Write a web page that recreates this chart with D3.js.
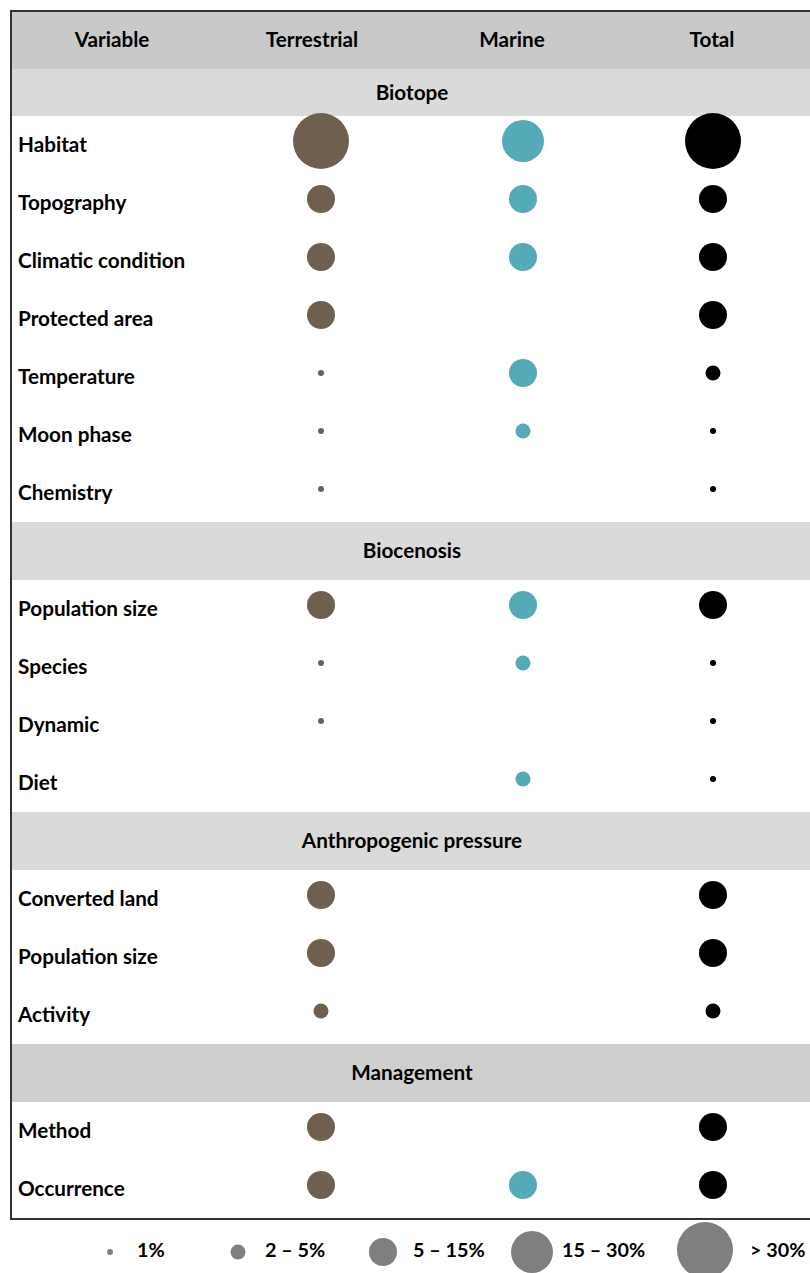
<!DOCTYPE html>
<meta charset="utf-8">
<html>
<head>
<script src="https://d3js.org/d3.v7.min.js"></script>
<style>
  body { margin: 0; background: #fff; }
  text { font-family: Lato, "Open Sans", sans-serif; font-weight: bold; fill: #000; }
</style>
</head>
<body>
<svg id="my_dataviz" width="810" height="1273"></svg>
</body>
</html>
<script>

// Columns and size classes
var columns = ["Variable", "Terrestrial", "Marine", "Total"];
var series = ["Terrestrial", "Marine", "Total"];
var sizeClasses = ["1%", "2 – 5%", "5 – 15%", "15 – 30%", "> 30%"];

// Sections and their variables (size class 1..5, 0 = none)
var sections = ["Biotope", "Biocenosis", "Anthropogenic pressure", "Management"];
var variables = [
  "Habitat", "Topography", "Climatic condition", "Protected area", "Temperature", "Moon phase", "Chemistry",
  "Population size", "Species", "Dynamic", "Diet",
  "Converted land", "Population size", "Activity",
  "Method", "Occurrence"
];
var variableSection = [0, 0, 0, 0, 0, 0, 0, 1, 1, 1, 1, 2, 2, 2, 3, 3];
var terrestrial = [5, 3, 3, 3, 1, 1, 1, 3, 1, 1, 0, 3, 3, 2, 3, 3];
var marine      = [4, 3, 3, 0, 3, 2, 0, 3, 2, 0, 2, 0, 0, 0, 0, 3];
var total       = [5, 3, 3, 3, 2, 1, 1, 3, 1, 1, 1, 3, 3, 2, 3, 3];

var svg = d3.select("svg"),
  width = +svg.attr("width"),
  height = +svg.attr("height");

var tableLeft = 12, tableTop = 11, rowH = 58;

// Scales
var colX = d3.scaleBand().domain(columns).range([tableLeft, tableLeft + 800]);
var dotX = d3.scaleOrdinal().domain(series).range([321, 523, 713]);
var radius = d3.scaleOrdinal().domain([1, 2, 3, 4, 5]).range([3, 7.5, 14, 21, 28]);
var color = d3.scaleOrdinal().domain(series).range(["#6e5f4f", "#55aab7", "#000000"]);
var sectionFill = ["#dadada", "#dadada", "#dadada", "#d0cfd0"];

// Build layout of rows
var layout = [];
var y = tableTop;
layout.push({type: "header", y0: y, h: rowH}); y += rowH;
variables.forEach(function(v, i) {
  if (i === 0 || variableSection[i] !== variableSection[i - 1]) {
    var s = variableSection[i];
    var h = s === 0 ? 47 : rowH;
    layout.push({type: "section", name: sections[s], idx: s, y0: y, h: h});
    y += h;
  }
  layout.push({type: "row", name: v, i: i, y0: y, h: rowH});
  y += rowH;
});
var tableBottom = y;

// Header band
var header = layout[0];
svg.append("rect")
  .attr("x", tableLeft).attr("y", header.y0)
  .attr("width", width - tableLeft).attr("height", header.h)
  .attr("fill", "#c9c9c9");
svg.append("g").selectAll("text")
  .data(columns)
  .enter().append("text")
    .attr("x", function(d) { return colX(d) + colX.bandwidth() / 2; })
    .attr("y", header.y0 + header.h / 2)
    .attr("dy", "0.35em")
    .attr("text-anchor", "middle")
    .style("font-size", "20.7px")
    .text(function(d) { return d; });

// Section bands
var secs = layout.filter(function(d) { return d.type === "section"; });
var secG = svg.append("g").selectAll("g")
  .data(secs)
  .enter().append("g");
secG.append("rect")
  .attr("x", tableLeft).attr("y", function(d) { return d.y0; })
  .attr("width", width - tableLeft).attr("height", function(d) { return d.h; })
  .attr("fill", function(d) { return sectionFill[d.idx]; });
secG.append("text")
  .attr("x", 412)
  .attr("y", function(d) { return d.y0 + d.h / 2; })
  .attr("dy", "0.35em")
  .attr("text-anchor", "middle")
  .style("font-size", "20.7px")
  .text(function(d) { return d.name; });

// Variable rows
var rows = layout.filter(function(d) { return d.type === "row"; });
svg.append("g").selectAll("text")
  .data(rows)
  .enter().append("text")
    .attr("x", 18)
    .attr("y", function(d) { return d.y0 + d.h / 2; })
    .attr("dy", "0.35em")
    .style("font-size", "20.7px")
    .text(function(d) { return d.name; });

// Circles
var values = {Terrestrial: terrestrial, Marine: marine, Total: total};
var dots = [];
rows.forEach(function(r) {
  series.forEach(function(s) {
    var v = values[s][r.i];
    if (v > 0) dots.push({s: s, v: v, cy: r.y0 + r.h / 2 - 4});
  });
});
svg.append("g").selectAll("circle")
  .data(dots)
  .enter().append("circle")
    .attr("cx", function(d) { return dotX(d.s); })
    .attr("cy", function(d) { return d.cy; })
    .attr("r", function(d) { return radius(d.v); })
    .attr("fill", function(d) { return color(d.s); });

// Table border (left, top, bottom)
svg.append("path")
  .attr("d", "M" + width + "," + tableTop + "H" + (tableLeft - 1) + "V" + (tableBottom + 1) + "H" + width)
  .attr("fill", "none")
  .attr("stroke", "#333")
  .attr("stroke-width", 2);

// Legend
var legendX = [110, 238, 383, 532, 705];
var labelX = [137, 265, 413, 562, 750];
var legend = svg.append("g").selectAll("g")
  .data(sizeClasses)
  .enter().append("g");
legend.append("circle")
  .attr("cx", function(d, i) { return legendX[i]; })
  .attr("cy", function(d, i) { return i === 4 ? 1250 : 1252; })
  .attr("r", function(d, i) { return radius(i + 1); })
  .attr("fill", "#7f7f7f");
legend.append("text")
  .attr("x", function(d, i) { return labelX[i]; })
  .attr("y", 1250)
  .attr("dy", "0.35em")
  .style("font-size", "19.8px")
  .text(function(d) { return d; });

</script>
